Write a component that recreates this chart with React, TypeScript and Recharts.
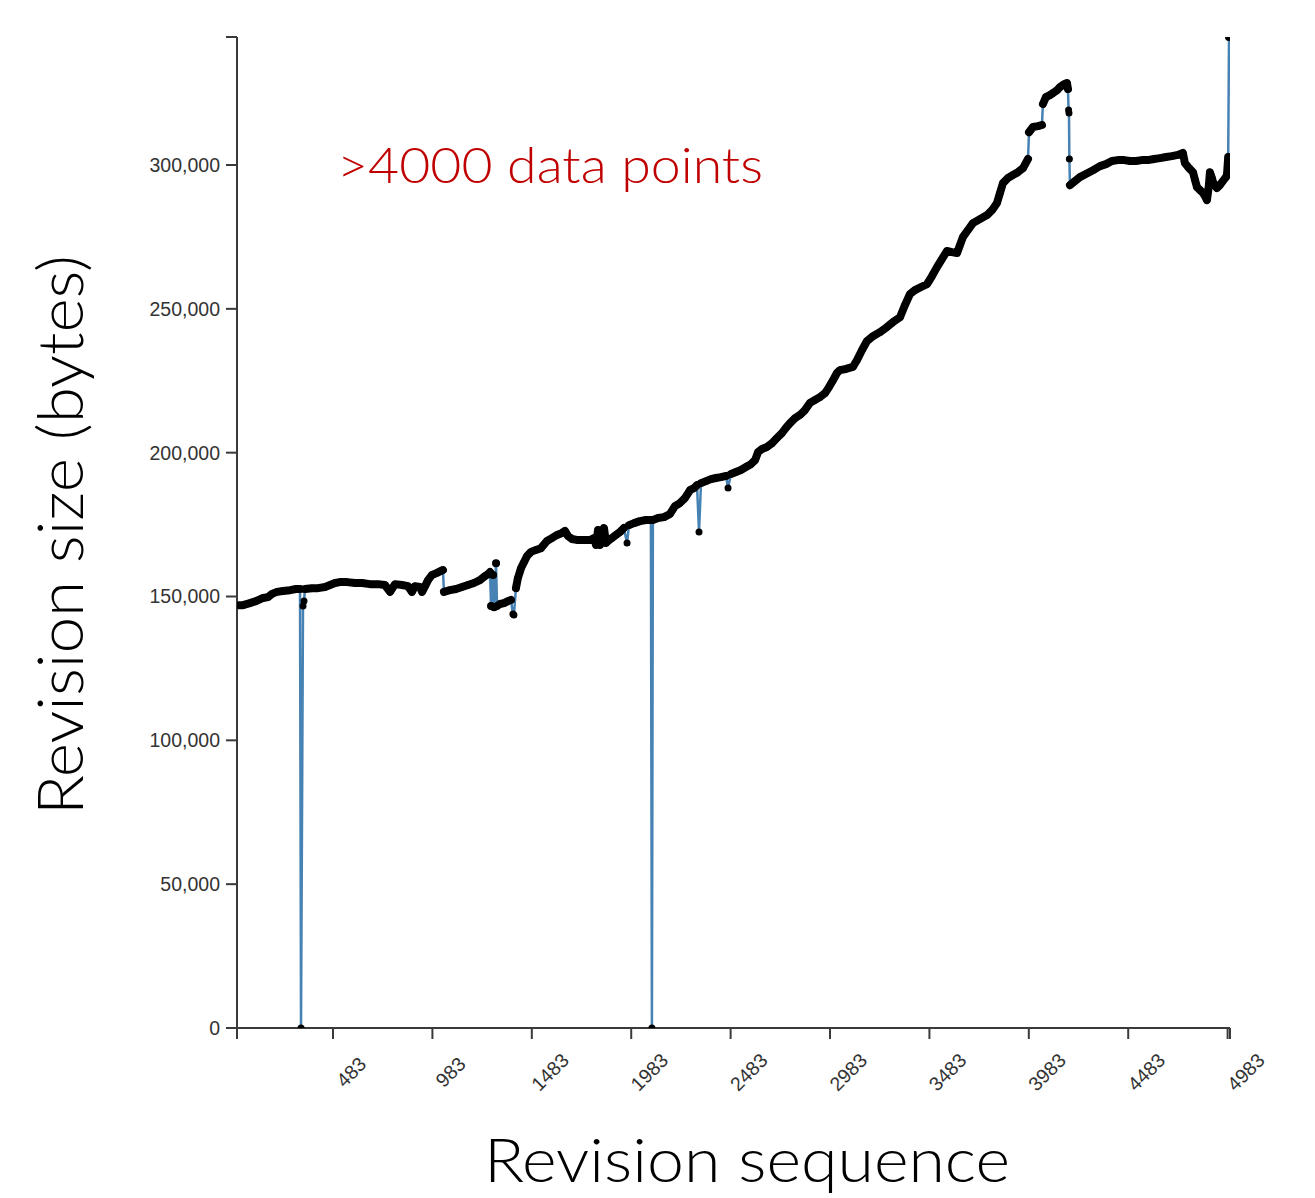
import React from 'react';
import { ComposedChart, Line, XAxis, YAxis } from 'recharts';

// Main edit history: [revision index, page size in bytes]
const mainHistory: [number, number][] = [
  [0, 147000], [30, 147000], [65, 147700], [96, 148400], [131, 149500], [156, 149800], [176, 150900],
  [201, 151600], [231, 151900], [267, 152200], [297, 152600], [317, 152600],
  [342, 152600], [377, 152900], [407, 152900], [443, 153300], [468, 154000], [493, 154700], [518, 155000],
  [553, 155000], [594, 154700], [629, 154700], [669, 154300], [709, 154300], [744, 154000], [770, 151600],
  [795, 154300], [830, 154000], [860, 153600], [880, 151600], [895, 153600], [920, 153300], [931, 151600],
  [946, 153600], [961, 155700], [981, 157500], [1006, 158200], [1026, 158900], [1036, 159200],
  [1041, 151600], [1071, 152200], [1102, 152600], [1132, 153300], [1162, 154000], [1192, 154700],
  [1222, 155700], [1247, 157100], [1263, 157800], [1273, 158500],
  [1278, 146700], [1288, 157500], [1293, 146300], [1303, 161600], [1308, 146700],
  [1323, 147400], [1343, 147700], [1363, 148400], [1378, 148800],
  [1403, 152900], [1413, 156400], [1429, 159900], [1444, 162000], [1459, 164100], [1479, 165500],
  [1504, 166200], [1529, 166800], [1559, 169300], [1584, 170300], [1610, 171400], [1635, 172100],
  [1650, 172800], [1665, 171000], [1685, 170000], [1715, 169600], [1745, 169600], [1776, 169600],
  [1796, 170300], [1806, 167900], [1816, 173100], [1826, 167900], [1836, 171000], [1846, 173800],
  [1856, 168600], [1866, 169300], [1886, 170300], [1906, 171400], [1926, 172400], [1946, 173800],
  [1972, 174800], [1997, 175500], [2027, 176200], [2057, 176600], [2082, 176600],
  [2092, 176600], [2118, 177300], [2148, 177600], [2178, 178700], [2203, 181400], [2228, 182500],
  [2253, 184200], [2279, 187000], [2299, 187700], [2314, 188700],
  [2334, 189400], [2359, 190100], [2384, 190800], [2409, 191200], [2435, 191500], [2460, 191900],
  [2485, 192600], [2510, 193300], [2535, 194000], [2560, 195000], [2585, 196000], [2606, 197400],
  [2621, 200200], [2641, 201300], [2666, 202000], [2691, 203300], [2716, 205100], [2741, 206800],
  [2761, 208600], [2782, 210300], [2807, 212000], [2832, 213100], [2857, 214800], [2882, 217300],
  [2907, 218300], [2932, 219300], [2958, 220700], [2978, 222800], [2998, 225200], [3018, 227700],
  [3033, 228700], [3063, 229100], [3098, 229800], [3119, 232200], [3144, 235700], [3169, 238800],
  [3199, 240500], [3234, 241900], [3270, 243700], [3300, 245400], [3335, 247100], [3360, 251300],
  [3385, 255100], [3410, 256500], [3441, 257600], [3471, 258600], [3496, 261400], [3521, 264500],
  [3546, 267300], [3571, 270100], [3596, 269700], [3622, 269400], [3637, 272200], [3652, 275000],
  [3677, 277400], [3702, 279800], [3737, 281200], [3773, 282600], [3798, 284300], [3823, 286800],
  [3838, 290300], [3853, 293700], [3878, 295500], [3903, 296500], [3928, 297500], [3954, 298900],
  [3979, 302100],
  [3984, 311400], [4004, 313200], [4029, 313500], [4049, 313900],
  [4054, 321200], [4069, 323600], [4089, 324300], [4104, 325000], [4125, 326000], [4140, 327100],
  [4160, 328100], [4175, 328500], [4180, 326400],
  [4190, 293000], [4215, 294400], [4240, 295800], [4270, 296900], [4306, 298200], [4341, 299600],
  [4371, 300300], [4401, 301400], [4431, 301700], [4462, 301700], [4492, 301400], [4522, 301400],
  [4552, 301700], [4582, 301700], [4613, 302100], [4643, 302400], [4673, 302800], [4703, 303100],
  [4733, 303500], [4758, 304200], [4768, 300700], [4789, 298900], [4809, 297500], [4819, 294800],
  [4829, 292300], [4844, 291300], [4859, 290300], [4869, 289200], [4879, 287800], [4889, 293000],
  [4894, 297500], [4904, 295500], [4909, 294100], [4919, 293000], [4929, 292000], [4944, 293000],
  [4959, 294400], [4975, 295800], [4980, 296800], [4985, 301700], [4986, 302800],
  [4990, 344500],
];

// Stray revisions (blankings, partial reverts) that sit away from the main history
const strayRevisions: [number, number][] = [
  [322, 0], [332, 146700], [337, 148400],
  [1388, 143900], [1393, 143600],
  [1962, 168600],
  [2087, 0],
  [2324, 172400],
  [2470, 187700],
  [4183, 319100], [4185, 318100], [4187, 302100],
];

const xTicks = [483, 983, 1483, 1983, 2483, 2983, 3483, 3983, 4483, 4983];
const yTicks = [0, 50000, 100000, 150000, 200000, 250000, 300000];
const xDomain: [number, number] = [0, 4995];
const yDomain: [number, number] = [0, 344500];

const annotation = '>4000 data points';
const xTitle = 'Revision sequence';
const yTitle = 'Revision size (bytes)';

// Neighbouring revisions further apart than this are joined only by the thin blue line
const JUMP_BYTES = 6500;

type Row = { seq: number; size: number | null; band: number | null };

const rows: Row[] = (() => {
  const merged = [
    ...mainHistory.map(([seq, size]) => ({ seq, size, stray: false })),
    ...strayRevisions.map(([seq, size]) => ({ seq, size, stray: true })),
  ].sort((a, b) => a.seq - b.seq);
  const out: Row[] = [];
  let prev: { seq: number; size: number; stray: boolean } | null = null;
  for (const p of merged) {
    if (prev && !prev.stray && !p.stray && Math.abs(p.size - prev.size) > JUMP_BYTES) {
      out.push({ seq: (prev.seq + p.seq) / 2, size: null, band: null });
    }
    out.push({ seq: p.seq, size: p.size, band: p.stray ? null : p.size });
    prev = p;
  }
  return out;
})();

// Layout
const W = 1300;
const H = 1190;
const MARGIN = { top: 29, right: 78, bottom: 100, left: 129 };
const Y_AXIS_W = 100;
const X_AXIS_H = 70;
const PLOT_LEFT = MARGIN.left + Y_AXIS_W;
const PLOT_RIGHT = W - MARGIN.right;
const PLOT_TOP = MARGIN.top;
const PLOT_BOTTOM = H - MARGIN.bottom - X_AXIS_H;
const TICK_SIZE = 11;
const AXIS_COLOR = '#3a3a3a';
const TICK_FONT = '"Liberation Sans", Arial, sans-serif';
const TITLE_FONT = 'Lato, "Noto Sans", sans-serif';

const fmt = (v: number) => v.toLocaleString('en-US');

const XTick = (props: any) => {
  const { x, y, payload } = props;
  return (
    <g transform={`translate(${x},${y})`}>
      <text
        x={0}
        y={0}
        transform="translate(18,31) rotate(-45)"
        textAnchor="middle"
        dominantBaseline="central"
        fill="#333"
        fontSize={19.5}
        fontFamily={TICK_FONT}
      >
        {payload.value}
      </text>
    </g>
  );
};

export default function App() {
  return (
    <div style={{ position: 'relative', width: W, height: H }}>
      <ComposedChart width={W} height={H} data={rows} margin={MARGIN}>
        <XAxis
          type="number"
          dataKey="seq"
          domain={xDomain}
          ticks={xTicks}
          allowDataOverflow
          height={X_AXIS_H}
          tickSize={TICK_SIZE}
          axisLine={{ stroke: AXIS_COLOR, strokeWidth: 2 }}
          tickLine={{ stroke: AXIS_COLOR, strokeWidth: 2 }}
          tick={<XTick />}
          interval={0}
        />
        <YAxis
          type="number"
          domain={yDomain}
          ticks={yTicks}
          allowDataOverflow
          width={Y_AXIS_W}
          tickSize={TICK_SIZE}
          tickMargin={6}
          tickFormatter={fmt}
          axisLine={{ stroke: AXIS_COLOR, strokeWidth: 2 }}
          tickLine={{ stroke: AXIS_COLOR, strokeWidth: 2 }}
          tick={{ fill: '#333', fontSize: 19.5, fontFamily: TICK_FONT }}
          interval={0}
        />
        <Line
          type="linear"
          dataKey="size"
          stroke="#4682b4"
          strokeWidth={2.5}
          dot={false}
          activeDot={false}
          connectNulls
          isAnimationActive={false}
        />
        <Line
          type="linear"
          dataKey="band"
          stroke="#000"
          strokeWidth={8}
          strokeLinejoin="round"
          strokeLinecap="round"
          dot={false}
          activeDot={false}
          connectNulls={false}
          isAnimationActive={false}
        />
        <Line
          type="linear"
          dataKey="size"
          stroke="none"
          dot={{ r: 3.5, fill: '#000', stroke: 'none' }}
          activeDot={false}
          connectNulls
          isAnimationActive={false}
        />
      </ComposedChart>
      <svg
        width={W}
        height={H}
        style={{ position: 'absolute', left: 0, top: 0, pointerEvents: 'none' }}
      >
        {/* outer ticks at the ends of both axes */}
        <line x1={PLOT_LEFT - TICK_SIZE} y1={PLOT_TOP} x2={PLOT_LEFT} y2={PLOT_TOP} stroke={AXIS_COLOR} strokeWidth={2} />
        <line x1={PLOT_LEFT} y1={PLOT_BOTTOM} x2={PLOT_LEFT} y2={PLOT_BOTTOM + TICK_SIZE} stroke={AXIS_COLOR} strokeWidth={2} />
        <line x1={PLOT_RIGHT} y1={PLOT_BOTTOM} x2={PLOT_RIGHT} y2={PLOT_BOTTOM + TICK_SIZE} stroke={AXIS_COLOR} strokeWidth={2} />
        <text
          x={542}
          y={175}
          textAnchor="middle"
          fill="#c00000"
          fontSize={50}
          fontWeight={300}
          fontFamily={TITLE_FONT}
          textLength={426}
          lengthAdjust="spacingAndGlyphs"
        >
          {annotation}
        </text>
        <text
          x={739}
          y={1174}
          textAnchor="middle"
          fill="#000"
          fontSize={62}
          fontWeight={300}
          fontFamily={TITLE_FONT}
          textLength={526}
          lengthAdjust="spacingAndGlyphs"
        >
          {xTitle}
        </text>
        <text
          transform="translate(75,527) rotate(-90)"
          x={0}
          y={0}
          textAnchor="middle"
          fill="#000"
          fontSize={64}
          fontWeight={300}
          fontFamily={TITLE_FONT}
          textLength={560}
          lengthAdjust="spacingAndGlyphs"
        >
          {yTitle}
        </text>
      </svg>
    </div>
  );
}
